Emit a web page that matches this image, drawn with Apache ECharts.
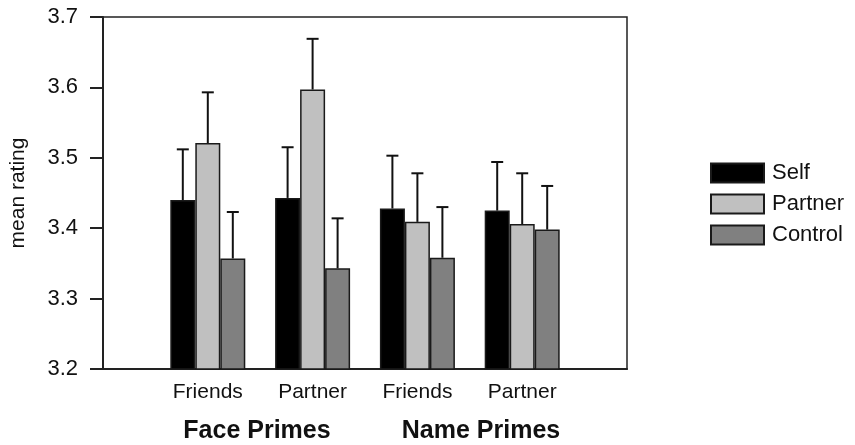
<!DOCTYPE html>
<html>
<head>
<meta charset="utf-8">
<script src="https://cdn.jsdelivr.net/npm/echarts@6/dist/echarts.min.js"></script>
<style>
  html, body { margin: 0; padding: 0; background: #fff; }
  #chart { width: 855px; height: 445px; }
</style>
</head>
<body>
<div id="chart"></div>
<script>
// 类别（两端留空位，让柱组落在刻度上）
const categories = ['', 'Friends', 'Partner', 'Friends', 'Partner', '']
const yTicks = [3.2, 3.3, 3.4, 3.5, 3.6, 3.7]

// 均值
const selfMean = [3.440, 3.443, 3.428, 3.425]
const partnerMean = [3.521, 3.597, 3.409, 3.406]
const controlMean = [3.357, 3.343, 3.358, 3.398]

// 误差线上端
const selfUpper = [3.512, 3.515, 3.503, 3.494]
const partnerUpper = [3.593, 3.669, 3.478, 3.478]
const controlUpper = [3.423, 3.414, 3.430, 3.460]

const groupLabels = ['Face Primes', 'Name Primes']

const FONT = '"Liberation Sans", Arial, Helvetica, sans-serif'
const BAR_W = 25

function pad(arr) {
  return ['-'].concat(arr).concat(['-'])
}

// 误差线数据 [类别索引, 均值, 上端]
function errData(mean, upper) {
  let out = []
  for (var i = 0; i < mean.length; i++) {
    out.push([i + 1, mean[i], upper[i]])
  }
  return out
}

function errSeries(name, mean, upper, offset) {
  return {
    name: name,
    type: 'custom',
    z: 5,
    silent: true,
    data: errData(mean, upper),
    renderItem: function (params, api) {
      let base = api.coord([api.value(0), api.value(1)])
      let top = api.coord([api.value(0), api.value(2)])
      let x = base[0] + offset
      let style = { stroke: '#111', lineWidth: 2 }
      return {
        type: 'group',
        children: [
          { type: 'line', shape: { x1: x, y1: base[1], x2: x, y2: top[1] }, style: style },
          { type: 'line', shape: { x1: x - 6, y1: top[1], x2: x + 6, y2: top[1] }, style: style },
        ],
      }
    },
  }
}

function barSeries(name, data, color) {
  return {
    name: name,
    type: 'bar',
    barWidth: BAR_W,
    barGap: 0,
    data: pad(data),
    itemStyle: { color: color, borderColor: '#1a1a1a', borderWidth: 1.5 },
  }
}

var myChart = echarts.init(document.getElementById('chart'))
var option = {
  animation: false,
  backgroundColor: '#fff',
  grid: {
    left: 102,
    right: 228,
    top: 17,
    bottom: 76,
    show: true,
    borderColor: '#222',
    borderWidth: 1.5,
  },
  legend: {
    orient: 'vertical',
    left: 705,
    top: 157,
    itemWidth: 53,
    itemHeight: 19,
    itemGap: 9,
    icon: 'rect',
    data: ['Self', 'Partner', 'Control'],
    textStyle: { fontFamily: FONT, fontSize: 22, color: '#111', padding: [0, 0, 0, 3] },
  },
  xAxis: {
    type: 'category',
    data: categories,
    boundaryGap: false,
    axisLine: { lineStyle: { color: '#222', width: 2 } },
    axisTick: { show: false },
    axisLabel: { fontFamily: FONT, fontSize: 21, color: '#111', margin: 13, interval: 0 },
    splitLine: { show: false },
  },
  yAxis: {
    type: 'value',
    min: yTicks[0],
    max: yTicks[yTicks.length - 1],
    interval: 0.1,
    name: 'mean rating',
    nameLocation: 'middle',
    nameGap: 74,
    nameTextStyle: { fontFamily: FONT, fontSize: 21, color: '#111', padding: [0, 0, 0, 0] },
    axisLine: { show: true, lineStyle: { color: '#222', width: 2 } },
    axisTick: { show: true, inside: false, length: 13, lineStyle: { color: '#222', width: 2 } },
    axisLabel: {
      fontFamily: FONT,
      fontSize: 22,
      color: '#111',
      margin: 25,
      formatter: function (v) { return v.toFixed(1) },
    },
    splitLine: { show: false },
  },
  graphic: [
    {
      type: 'text', x: 257, y: 431,
      style: { text: groupLabels[0], font: 'bold 25px ' + FONT, textAlign: 'center', textVerticalAlign: 'middle', fill: '#111' },
    },
    {
      type: 'text', x: 481, y: 431,
      style: { text: groupLabels[1], font: 'bold 25px ' + FONT, textAlign: 'center', textVerticalAlign: 'middle', fill: '#111' },
    },
  ],
  series: [
    barSeries('Self', selfMean, '#000000'),
    barSeries('Partner', partnerMean, '#c0c0c0'),
    barSeries('Control', controlMean, '#808080'),
    errSeries('selfErr', selfMean, selfUpper, -BAR_W),
    errSeries('partnerErr', partnerMean, partnerUpper, 0),
    errSeries('controlErr', controlMean, controlUpper, BAR_W),
  ],
}
myChart.setOption(option)
</script>
</body>
</html>
